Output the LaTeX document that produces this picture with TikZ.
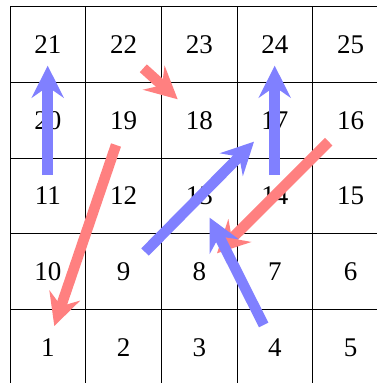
\documentclass[tikz,border=0pt]{standalone}
\usepackage{fontspec}
\setmainfont{Liberation Serif}
\usetikzlibrary{arrows.meta}
\begin{document}
\begin{tikzpicture}[x=1pt,y=-1pt,
  num/.style={font=\fontsize{27}{27}\selectfont, inner sep=0pt, anchor=center},
  gridline/.style={draw=black, line width=0.9pt},
  ladder/.style={draw={rgb,255:red,128;green,128;blue,255}, line width=10.5pt,
    -{Stealth[length=32pt,width=32pt,inset=11pt]}},
  snake/.style={draw={rgb,255:red,255;green,128;blue,128}, line width=10.5pt,
    -{Stealth[length=32pt,width=32pt,inset=11pt]}}]
\useasboundingbox (0,0) rectangle (377,383);
\clip (0,0) rectangle (377,383);
\fill[white] (0,0) rectangle (377,383);
\def\cs{75.7}
\foreach \i in {0,...,5} {
  \draw[gridline] ({10+\i*\cs},6.7) -- ({10+\i*\cs},{6.7+5*\cs});
  \draw[gridline] (10,{6.7+\i*\cs}) -- ({10+5*\cs},{6.7+\i*\cs});
}
% numbers: row r (0 = top), column c (0 = left)
\foreach \n/\c/\r in {21/0/0,22/1/0,23/2/0,24/3/0,25/4/0,
                      20/0/1,19/1/1,18/2/1,17/3/1,16/4/1,
                      11/0/2,12/1/2,13/2/2,14/3/2,15/4/2,
                      10/0/3,9/1/3,8/2/3,7/3/3,6/4/3,
                      1/0/4,2/1/4,3/2/4,4/3/4,5/4/4} {
  \node[num] (c\n) at ({10+(\c+0.5)*\cs},{6.7+(\r+0.5)*\cs}) {\n};
}
% arrow end points
\coordinate (l1a) at (47.7,175);  \coordinate (l1b) at (47.7,65.7);
\coordinate (l2a) at (274.7,175); \coordinate (l2b) at (274.7,65.7);
\coordinate (l3a) at (145,252);   \coordinate (l3b) at (254,141.7);
\coordinate (l4a) at (263.7,325); \coordinate (l4b) at (209.7,217.7);
\coordinate (s1a) at (143.3,68.3); \coordinate (s1b) at (177.7,99.3);
\coordinate (s2a) at (116,145);    \coordinate (s2b) at (54.3,326);
\coordinate (s3a) at (328.7,141.7); \coordinate (s3b) at (217,253.3);
\draw[ladder] (l1a) -- (l1b);
\draw[ladder] (l2a) -- (l2b);
\draw[snake] (s1a) -- (s1b);
\draw[snake] (s2a) -- (s2b);
\draw[ladder] (l3a) -- (l3b);
\draw[snake] (s3a) -- (s3b);
\draw[ladder] (l4a) -- (l4b);
\end{tikzpicture}
\end{document}
